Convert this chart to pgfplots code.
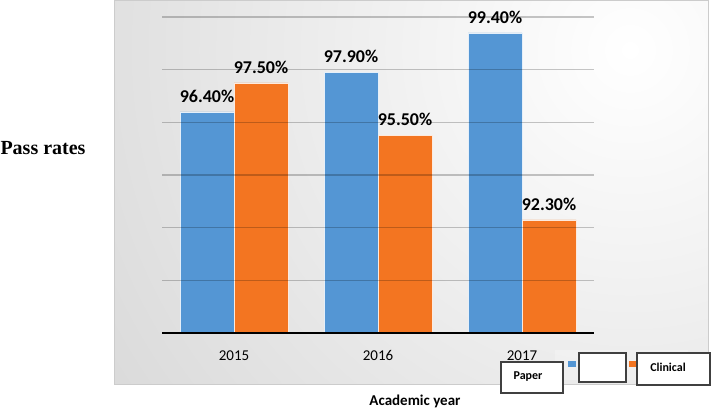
\documentclass[border=0pt]{standalone}
\usepackage{pgfplots}
\pgfplotsset{compat=1.18}
\usepackage{pgfplotstable}
\usepackage{fontspec}
\setmainfont{Carlito}
\newfontfamily\timesfont{Liberation Serif}
\definecolor{barblue}{RGB}{84,150,212}
\definecolor{barorange}{RGB}{243,117,33}

\pgfplotstableread{
x v
0 96.4
1 97.9
2 99.4
}\paperdata
\pgfplotstableread{
x v
0 97.5
1 95.5
2 92.3
}\clinicaldata

\begin{document}
\begin{tikzpicture}[x=1pt,y=1pt]
\useasboundingbox (0,0) rectangle (711,410);
\begin{scope}
\clip (114,26) rectangle (708,409);
\shade[inner color=white, outer color=gray!58] (630,360) circle (1250);
\end{scope}
\draw[gray!40, line width=1pt] (114,26) rectangle (708,409);
\fill[white, opacity=0.25] (555,30) rectangle (688,60);
\begin{axis}[
  at={(162pt,77pt)}, anchor=south west,
  scale only axis, width=432pt, height=316pt,
  xmin=-0.5, xmax=2.5, ymin=0, ymax=12,
  ybar=0pt, bar width=54pt,
  xtick={0,1,2}, xticklabels={2015,2016,2017},
  ytick={0,2,...,12}, yticklabels={},
  ymajorgrids, major grid style={black, opacity=0.22, line width=1.2pt},
  axis on top,
  separate axis lines,
  axis x line*=bottom, axis y line*=left,
  x axis line style={black, line width=2.2pt, -},
  y axis line style={draw=none},
  major tick length=0pt,
  xticklabel style={font=\fontsize{15}{16}\selectfont, anchor=base, yshift=-27pt},
  clip=false,
  /pgf/number format/assume math mode=true,
  nodes near coords={\pgfmathprintnumber[fixed,fixed zerofill,precision=2,assume math mode=true]{\pgfplotspointmeta}\%},
  point meta=explicit,
  nodes near coords style={font=\bfseries\fontsize{18}{20}\selectfont, black, anchor=south, yshift=6pt},
]
\addplot[fill=barblue, draw=white!85!barblue, line width=0.5pt] table[x=x, y expr=\thisrow{v}-88, meta=v] {\paperdata};
\addplot[fill=barorange, draw=white!85!barorange, line width=0.5pt] table[x=x, y expr=\thisrow{v}-88, meta=v] {\clinicaldata};
\end{axis}
% legend swatches
\fill[barblue] (568,43) rectangle (576,49);
\fill[barorange] (629,43) rectangle (637,49);
% legend boxes
\draw[black!75, line width=1.3pt, fill=white] (501,17) rectangle (563,48);
\node[font=\bfseries\fontsize{12}{14}\selectfont] at (528,33) {Paper};
\draw[black!75, line width=1.3pt, fill=white] (579,28) rectangle (626,57);
\draw[black!75, line width=1.3pt, fill=white] (637,25) rectangle (710,57);
\node[font=\bfseries\fontsize{12}{14}\selectfont] at (668,43) {Clinical};
% axis titles
\node[font=\bfseries\fontsize{15}{17}\selectfont] at (415,9) {Academic year};
\node[font=\timesfont\bfseries\fontsize{20}{22}\selectfont] at (43,262) {Pass rates};
\end{tikzpicture}
\end{document}
